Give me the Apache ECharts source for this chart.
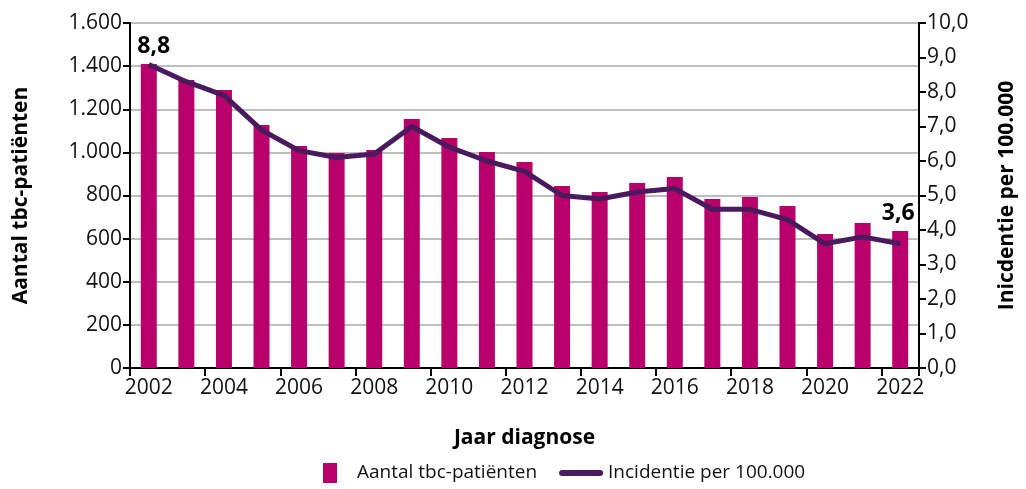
<!DOCTYPE html>
<html>
<head>
<meta charset="utf-8">
<script src="https://cdn.jsdelivr.net/npm/echarts@6/dist/echarts.min.js"></script>
<style>
  html, body { margin: 0; padding: 0; background: #fff; }
  #echartsMain { width: 1026px; height: 489px; }
</style>
</head>
<body>
<div id="echartsMain"></div>
<script>
// jaren en waarden
var jaren = ['2002', '2003', '2004', '2005', '2006', '2007', '2008', '2009', '2010', '2011', '2012',
  '2013', '2014', '2015', '2016', '2017', '2018', '2019', '2020', '2021', '2022'];
var aantalPatienten = [1410, 1336, 1289, 1127, 1030, 997, 1011, 1155, 1067, 1002, 955,
  844, 816, 858, 886, 784, 793, 751, 622, 672, 635];
var incidentie = [8.8, 8.3, 7.9, 6.9, 6.3, 6.1, 6.2, 7.0, 6.4, 6.0, 5.7,
  5.0, 4.9, 5.1, 5.2, 4.6, 4.6, 4.3, 3.6, 3.8, 3.6];

var font = '"Open Sans", "Noto Sans", sans-serif';
var magenta = '#b9006a';
var paars = '#4a1a5e';

var myChart = echarts.init(document.getElementById('echartsMain'));

// labels alleen bij eerste en laatste jaar
var lijnData = incidentie.map(function (v, i) {
  var item = { value: v };
  if (i === 0) {
    item.label = { show: true, position: 'top', offset: [5, -1] };
  } else if (i === incidentie.length - 1) {
    item.label = { show: true, position: 'top', offset: [-2, -13] };
  }
  return item;
});

var option = {
  animation: false,
  textStyle: { fontFamily: font },
  grid: { left: 130, right: 106, top: 23, bottom: 121 },
  legend: {
    bottom: 1,
    left: 318,
    itemGap: 22,
    itemWidth: 44,
    itemHeight: 20,
    textStyle: { fontFamily: font, fontSize: 19, color: '#111' },
    data: [
      { name: 'Aantal tbc-patiënten', icon: 'path://M0,0 L14,0 L14,20 L0,20 Z', itemStyle: { color: magenta } },
      { name: 'Incidentie per 100.000', icon: 'path://M3,0 L41,0 A3,3 0 0 1 41,6 L3,6 A3,3 0 0 1 3,0 Z', itemStyle: { color: paars } }
    ]
  },
  xAxis: {
    type: 'category',
    data: jaren,
    name: 'Jaar diagnose',
    nameLocation: 'middle',
    nameGap: 60,
    nameTextStyle: { fontFamily: font, fontSize: 21, fontWeight: 'bold', color: '#000' },
    axisLine: { lineStyle: { color: '#000', width: 2 } },
    axisTick: { show: true, length: 8, lineStyle: { color: '#000', width: 2 } },
    axisLabel: { interval: 1, fontFamily: font, fontSize: 21, color: '#111', margin: 10 }
  },
  yAxis: [
    {
      type: 'value',
      min: 0, max: 1600, interval: 200,
      name: 'Aantal tbc-patiënten',
      nameLocation: 'middle',
      nameGap: 98,
      nameRotate: 90,
      nameTextStyle: { fontFamily: font, fontSize: 21, fontWeight: 'bold', color: '#000' },
      axisLine: { show: true, lineStyle: { color: '#000', width: 2 } },
      axisTick: { show: true, length: 7, lineStyle: { color: '#000', width: 2 } },
      axisLabel: {
        fontFamily: font, fontSize: 21, color: '#111', margin: 8,
        formatter: function (v) { return v >= 1000 ? Math.floor(v / 1000) + '.' + String(v % 1000).padStart(3, '0') : String(v); }
      },
      splitLine: { lineStyle: { color: '#bdbdbd', width: 2 } }
    },
    {
      type: 'value',
      min: 0, max: 10, interval: 1,
      name: 'Inicdentie per 100.000',
      nameLocation: 'middle',
      nameGap: 78,
      nameRotate: 90,
      nameTextStyle: { fontFamily: font, fontSize: 21, fontWeight: 'bold', color: '#000' },
      axisLine: { show: true, lineStyle: { color: '#000', width: 2 } },
      axisTick: { show: true, length: 7, lineStyle: { color: '#000', width: 2 } },
      axisLabel: {
        fontFamily: font, fontSize: 21, color: '#111', margin: 8,
        formatter: function (v) { return v.toFixed(1).replace('.', ','); }
      },
      splitLine: { show: false }
    }
  ],
  series: [
    {
      name: 'Aantal tbc-patiënten',
      type: 'bar',
      yAxisIndex: 0,
      barWidth: 16,
      itemStyle: { color: magenta },
      data: aantalPatienten
    },
    {
      name: 'Incidentie per 100.000',
      type: 'line',
      yAxisIndex: 1,
      symbol: 'circle',
      symbolSize: 1,
      showSymbol: true,
      lineStyle: { color: paars, width: 5 },
      itemStyle: { color: paars },
      label: {
        show: false,
        fontFamily: font, fontSize: 23, fontWeight: 'bold', color: '#000',
        formatter: function (p) { return p.value.toFixed(1).replace('.', ','); }
      },
      data: lijnData
    }
  ]
};

myChart.setOption(option);
</script>
</body>
</html>
